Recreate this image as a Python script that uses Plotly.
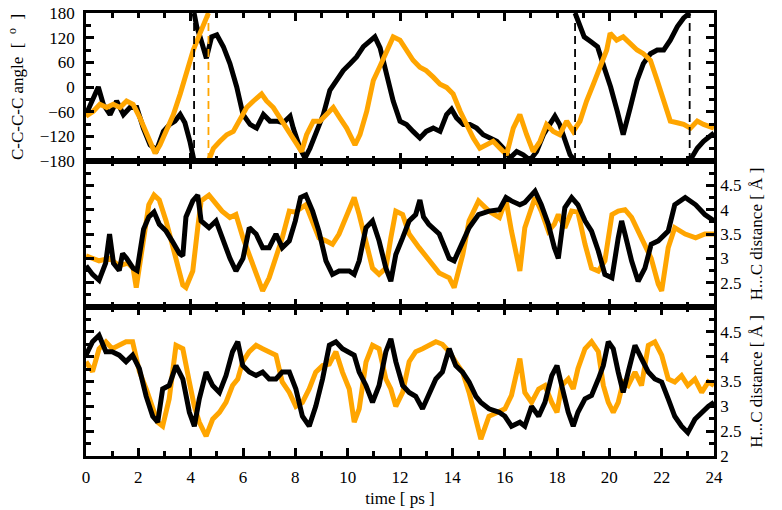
import plotly.graph_objects as go
from plotly.subplots import make_subplots

# ---------------- data ----------------
# top panel: C-C-C-C dihedral angle (deg); None marks the +-180 wrap
ang_black_t = [0, 0.22, 0.47, 0.66, 0.92, 1.17, 1.43, 1.68, 1.94, 2.19, 2.45, 2.7, 2.96, 3.2, 3.4, 3.6,
               3.78, 3.97, 4.13, None, 4.13, 4.23, 4.36, 4.6, 4.8, 5.0, 5.25, 5.5, 5.76, 6.0, 6.27, 6.52,
               6.78, 7.03, 7.29, 7.54, 7.8, 7.92, 8.18, 8.37, 8.56, 8.8, 9.07, 9.32, 9.58, 9.83, 10.1,
               10.34, 10.6, 10.85, 11.04, 11.24, 11.49, 11.74, 12.0, 12.25, 12.5, 12.76, 13.0, 13.27,
               13.53, 13.78, 13.97, 14.16, 14.42, 14.67, 14.93, 15.18, 15.44, 15.7, 15.95, 16.2, 16.46,
               16.71, 16.97, 17.22, 17.48, 17.73, 17.92, 18.1, 18.3, 18.5, 18.69, None, 18.69, 18.9,
               19.04, 19.3, 19.55, 19.8, 20.05, 20.3, 20.53, 20.8, 21.06, 21.3, 21.57, 21.83, 22.08,
               22.33, 22.6, 22.84, 23.07, None, 23.07, 23.36, 23.6, 24.0]
ang_black = [-67, -34, 0, -42, -67, -34, -67, -50, -50, -100, -141, -153, -108, -91, -83, -67,
             -87, -132, -180, None, 180, 147, 122, 70, 122, 127, 98, 57, 0, -67, -91, -100,
             -67, -83, -83, -87, -71, -100, -149, -173, -149, -108, -67, -8, 16, 40, 57,
             73, 98, 114, 122, 95, 25, -34, -83, -91, -108, -124, -108, -100,
             -108, -67, -54, -75, -91, -91, -100, -116, -124, -132, -149, -173, -157,
             -165, -178, -157, -116, -91, -71, -91, -132, -165, -180, None, 180, 147,
             122, 110, 98, 48, 0, -58, -116, -50, 16, 57, 81, 90, 90,
             114, 147, 168, 180, None, -180, -149, -132, -112]

ang_orange_t = [0, 0.28, 0.53, 0.79, 1.04, 1.3, 1.55, 1.8, 2.06, 2.32, 2.64, 2.83, 3.08, 3.34, 3.6,
                3.85, 4.1, 4.36, 4.55, 4.68, None, 4.68, 4.87, 5.12, 5.38, 5.63, 5.89, 6.14, 6.4, 6.71,
                6.9, 7.16, 7.41, 7.67, 7.92, 8.24, 8.43, 8.69, 8.94, 9.2, 9.45, 9.7, 9.96, 10.28,
                10.47, 10.73, 10.98, 11.23, 11.49, 11.74, 12.0, 12.25, 12.5, 12.76, 13.0, 13.27,
                13.53, 13.78, 14.03, 14.3, 14.54, 14.8, 15.05, 15.3, 15.56, 15.82, 16.07, 16.33,
                16.58, 16.84, 17.09, 17.35, 17.6, 17.86, 18.1, 18.37, 18.62, 18.88, 19.13, 19.39,
                19.64, 19.9, 20.03, 20.28, 20.53, 20.8, 21.06, 21.3, 21.57, 21.83, 22.08, 22.33,
                22.6, 22.84, 23.1, 23.36, 23.6, 24.0]
ang_orange = [-71, -59, -42, -50, -42, -50, -34, -42, -75, -116, -161, -141, -108, -67, -17,
              32, 90, 131, 164, 180, None, -180, -149, -132, -116, -108, -75, -50, -34, -17,
              -34, -50, -75, -100, -124, -157, -116, -83, -83, -67, -50, -75, -100, -141,
              -116, -59, 16, 50, 90, 122, 114, 90, 65, 48, 40, 24,
              7, -1, -17, -59, -91, -124, -149, -141, -132, -149, -165, -100,
              -67, -116, -157, -132, -91, -108, -116, -83, -108, -83, -34, 7,
              48, 90, 131, 114, 122, 106, 90, 81, 65, 16, -34, -83,
              -87, -91, -100, -83, -91, -100]

# wrap events (time, colour) shown as dashed verticals
wrap_t = [4.13, 4.68, 18.69, 23.07]
wrap_c = ["black", "orange", "black", "black"]

# middle panel: H...C distance (Angstrom)
mid_black_t = [0.0, 0.25, 0.5, 0.75, 0.9, 1.05, 1.27, 1.4, 1.55, 1.8, 1.95, 2.2, 2.4, 2.6, 2.8, 3.06,
               3.3, 3.57, 3.7, 3.82, 4.08, 4.27, 4.4, 4.7, 4.97, 5.2, 5.5, 5.73, 6.0, 6.24, 6.5, 6.75,
               7.0, 7.26, 7.5, 7.77, 8.0, 8.2, 8.4, 8.66, 8.9, 9.17, 9.42, 9.67, 10.06, 10.25, 10.44,
               10.7, 10.95, 11.2, 11.46, 11.65, 11.84, 12.1, 12.35, 12.6, 12.76, 12.9, 13.1, 13.5,
               13.88, 14.07, 14.4, 14.64, 15.0, 15.4, 15.8, 16.05, 16.26, 16.58, 16.77, 17.16, 17.4,
               17.67, 17.9, 18.05, 18.3, 18.56, 18.8, 19.07, 19.32, 19.58, 19.83, 20.1, 20.34, 20.47,
               20.6, 20.85, 21.1, 21.36, 21.6, 21.87, 22.25, 22.5, 22.9, 23.3, 23.65, 24.0]
mid_black = [2.85, 2.67, 2.55, 2.9, 3.5, 2.9, 2.75, 3.1, 3.0, 2.8, 2.75, 3.6, 3.85, 3.95, 3.7, 3.56,
             3.35, 3.1, 3.05, 3.85, 4.18, 4.3, 3.77, 3.63, 3.77, 3.42, 3.0, 2.74, 3.0, 3.63, 3.5, 3.22,
             3.22, 3.5, 3.22, 3.36, 3.77, 4.25, 4.3, 3.97, 3.56, 2.95, 2.67, 2.74, 2.74, 2.67, 2.95,
             3.63, 3.77, 3.36, 2.8, 2.53, 3.08, 3.42, 3.77, 3.9, 4.2, 3.85, 3.7, 3.5,
             3.0, 2.95, 3.36, 3.63, 3.9, 3.97, 4.0, 4.25, 4.18, 4.1, 4.15, 4.38, 4.1,
             3.7, 3.22, 3.0, 4.04, 4.25, 4.1, 3.77, 3.56, 3.15, 2.67, 2.6, 3.42, 3.77,
             3.5, 2.95, 2.53, 2.8, 3.29, 3.36, 3.56, 4.1, 4.25, 4.1, 3.9, 3.77]

mid_orange_t = [0.0, 0.25, 0.5, 0.9, 1.27, 1.6, 1.8, 1.92, 2.05, 2.2, 2.4, 2.6, 2.8, 3.06, 3.3, 3.57,
                3.7, 3.82, 4.08, 4.27, 4.4, 4.7, 4.97, 5.2, 5.5, 5.73, 6.0, 6.24, 6.5, 6.75, 7.0, 7.26,
                7.5, 7.77, 8.0, 8.4, 8.66, 8.9, 9.17, 9.42, 9.67, 10.06, 10.25, 10.44, 10.7, 10.95,
                11.2, 11.46, 11.65, 11.84, 12.1, 12.35, 12.73, 13.1, 13.5, 13.88, 14.07, 14.4, 14.64,
                15.0, 15.4, 15.8, 16.05, 16.26, 16.58, 16.77, 17.0, 17.16, 17.4, 17.67, 17.9, 18.05,
                18.3, 18.56, 18.8, 19.07, 19.32, 19.58, 19.83, 20.1, 20.34, 20.6, 20.85, 21.1, 21.36,
                21.6, 21.87, 22.0, 22.25, 22.5, 22.9, 23.3, 23.65, 24.0]
mid_orange = [3.05, 3.0, 2.95, 3.0, 2.85, 2.9, 2.8, 2.4, 2.9, 3.5, 4.1, 4.3, 4.2, 3.77, 3.3, 2.8,
              2.45, 2.4, 2.74, 3.63, 4.18, 4.3, 4.1, 3.97, 3.84, 3.9, 3.42, 3.08, 2.67, 2.33, 2.6, 3.0,
              3.42, 3.97, 3.95, 4.1, 3.77, 3.42, 3.36, 3.29, 3.5, 3.97, 4.25, 3.9, 3.29, 2.8,
              2.67, 2.8, 3.42, 3.97, 3.9, 3.5, 3.22, 2.95, 2.7, 2.6, 2.4, 3.08, 3.77,
              4.18, 3.97, 3.84, 4.2, 3.56, 2.74, 3.63, 4.0, 4.25, 3.97, 3.56, 3.7, 3.9,
              3.63, 3.97, 3.95, 3.29, 2.8, 2.74, 2.95, 3.9, 3.97, 4.0, 3.84, 3.56, 3.29,
              3.0, 2.47, 2.33, 3.22, 3.63, 3.5, 3.42, 3.5, 3.5]

# bottom panel: H...C distance (Angstrom)
bot_t = [0.0, 0.25, 0.5, 0.76, 1.0, 1.27, 1.53, 1.78, 2.04, 2.3, 2.55, 2.74, 2.93, 3.18, 3.44, 3.7,
         3.95, 4.14, 4.33, 4.59, 4.84, 5.1, 5.35, 5.6, 5.8, 5.99, 6.24, 6.5, 6.75, 7.0, 7.26, 7.5,
         7.77, 8.02, 8.27, 8.53, 8.78, 9.04, 9.3, 9.55, 9.8, 10.06, 10.25, 10.44, 10.7, 10.95, 11.2,
         11.46, 11.65, 11.84, 12.1, 12.35, 12.6, 12.86, 13.12, 13.37, 13.62, 13.88, 14.13, 14.39,
         14.64, 14.9, 15.09, 15.4, 15.79, 16.01, 16.26, 16.58, 16.77, 17.03, 17.3, 17.54, 17.8,
         18.0, 18.18, 18.43, 18.62, 18.8, 19.07, 19.32, 19.58, 19.77, 19.96, 20.15, 20.34, 20.53,
         20.72, 20.98, 21.23, 21.49, 21.74, 22.0, 22.25, 22.5, 22.76, 23.0, 23.27, 23.53, 23.78, 24.0]
bot_black = [4.03, 4.3, 4.43, 4.1, 4.1, 4.03, 3.9, 4.03, 3.76, 3.2, 2.8, 2.68, 3.35, 3.42, 3.82, 3.55,
             2.88, 2.6, 3.15, 3.69, 3.42, 3.28, 3.62, 4.1, 4.3, 3.82, 3.69, 3.62, 3.69, 3.55, 3.55, 3.69,
             3.69, 3.35, 2.8, 2.6, 3.0, 3.55, 4.23, 4.3, 4.16, 4.1, 4.03, 3.69, 3.42, 3.08, 3.42,
             4.1, 4.36, 3.9, 3.42, 3.28, 3.2, 2.95, 3.28, 3.55, 3.69, 4.16, 3.82, 3.69,
             3.49, 3.2, 3.08, 2.95, 2.88, 2.8, 2.6, 2.68, 2.6, 3.0, 2.8, 3.08, 3.62,
             3.82, 3.42, 2.88, 2.6, 2.88, 3.15, 3.22, 3.55, 3.82, 4.3, 4.16, 3.69, 3.28,
             3.69, 4.23, 3.96, 3.69, 3.55, 3.49, 3.15, 2.8, 2.6, 2.47, 2.74, 2.88, 3.0, 3.08]
bot_orange = [3.9, 3.7, 4.16, 4.3, 4.16, 4.23, 4.3, 4.3, 3.7, 3.35, 3.0, 2.68, 2.6, 3.15, 4.23, 4.16,
              3.49, 3.0, 2.68, 2.4, 2.74, 2.88, 3.08, 3.42, 3.55, 3.9, 4.1, 4.23, 4.16, 4.1, 4.03, 3.49,
              3.28, 3.0, 3.08, 3.35, 3.69, 3.82, 3.85, 4.1, 3.69, 3.35, 2.68, 2.95, 3.89, 4.23, 4.16,
              3.55, 3.35, 3.0, 3.28, 3.9, 4.1, 4.16, 4.23, 4.3, 4.25, 4.1, 3.89, 3.69,
              3.28, 2.68, 2.34, 2.8, 2.88, 2.95, 3.22, 3.96, 3.28, 3.08, 3.35, 3.42, 3.08,
              2.88, 3.42, 3.55, 3.35, 3.76, 4.16, 4.3, 4.1, 3.42, 3.08, 2.88, 3.08, 3.49,
              3.42, 3.69, 3.42, 4.23, 4.3, 4.03, 3.55, 3.49, 3.62, 3.42, 3.55, 3.28, 3.49, 3.42]

dist_ticks = [2, 2.5, 3, 3.5, 4, 4.5, 5]
mid_labels = ["", "2.5", "3", "3.5", "4", "4.5", ""]
bot_labels = ["2", "2.5", "3", "3.5", "4", "4.5", ""]

# ---------------- figure ----------------
ORANGE = "#FFA500"
LW = 5
fig = make_subplots(rows=3, cols=1, shared_xaxes=True, vertical_spacing=0)

fig.add_trace(go.Scatter(x=ang_black_t, y=ang_black, mode="lines",
                         line=dict(color="black", width=LW)), row=1, col=1)
fig.add_trace(go.Scatter(x=ang_orange_t, y=ang_orange, mode="lines",
                         line=dict(color=ORANGE, width=LW)), row=1, col=1)
for t, c in zip(wrap_t, wrap_c):
    fig.add_trace(go.Scatter(x=[t, t], y=[-180, 180], mode="lines",
                             line=dict(color=ORANGE if c == "orange" else "black",
                                       width=1.8, dash="8px,5px")), row=1, col=1)

fig.add_trace(go.Scatter(x=mid_orange_t, y=mid_orange, mode="lines",
                         line=dict(color=ORANGE, width=LW)), row=2, col=1)
fig.add_trace(go.Scatter(x=mid_black_t, y=mid_black, mode="lines",
                         line=dict(color="black", width=LW)), row=2, col=1)

fig.add_trace(go.Scatter(x=bot_t, y=bot_orange, mode="lines",
                         line=dict(color=ORANGE, width=LW)), row=3, col=1)
fig.add_trace(go.Scatter(x=bot_t, y=bot_black, mode="lines",
                         line=dict(color="black", width=LW)), row=3, col=1)

FAM = "Liberation Serif, Times New Roman, Times, serif"
FONT = dict(family=FAM, size=17, color="black")
axis_common = dict(showline=True, linewidth=2.5, linecolor="black", mirror="ticks",
                   ticks="inside", ticklen=8, tickwidth=2.5, tickcolor="black",
                   showgrid=False, zeroline=False, automargin=False,
                   tickfont=FONT, ticklabeloverflow="allow")
minor_x = dict(ticks="inside", dtick=1, ticklen=5, tickwidth=2.5, tickcolor="black", showgrid=False)

fig.update_xaxes(range=[0, 24], **axis_common)
fig.update_xaxes(dtick=4, tick0=0, showticklabels=False, minor=minor_x, row=1, col=1)
fig.update_xaxes(dtick=4, tick0=0, showticklabels=False, minor=minor_x, row=2, col=1)
fig.update_xaxes(dtick=2, tick0=0, showticklabels=True, minor=minor_x, ticklabelstandoff=4,
                 title=dict(text="time [ ps ]", font=FONT, standoff=6), row=3, col=1)

fig.update_yaxes(range=[-180, 180], tick0=-180, dtick=60, ticklabelstandoff=5,
                 minor=dict(ticks="inside", dtick=30, ticklen=5, tickwidth=2.5, tickcolor="black"),
                 title=dict(text="C-C-C-C angle  [  <sup>o</sup>  ]", font=FONT, standoff=12),
                 row=1, col=1, **axis_common)
fig.update_yaxes(range=[2, 5], side="right", tickvals=dist_ticks, ticktext=mid_labels,
                 ticklabelstandoff=0,
                 minor=dict(ticks="inside", dtick=0.25, ticklen=5, tickwidth=2.5, tickcolor="black"),
                 title=dict(text="H...C distance [ Å ]", font=FONT, standoff=10),
                 row=2, col=1, **axis_common)
fig.update_yaxes(range=[2, 5], side="right", tickvals=dist_ticks, ticktext=bot_labels,
                 ticklabelstandoff=0,
                 minor=dict(ticks="inside", dtick=0.25, ticklen=5, tickwidth=2.5, tickcolor="black"),
                 title=dict(text="H...C distance [ Å ]", font=FONT, standoff=10),
                 row=3, col=1, **axis_common)

fig.update_layout(
    width=782, height=510,
    margin=dict(l=86, r=68, t=13, b=54, autoexpand=False),
    paper_bgcolor="white", plot_bgcolor="white",
    showlegend=False,
    font=FONT,
    yaxis=dict(domain=[0.6659, 1.0]),
    yaxis2=dict(domain=[0.3363, 0.6659]),
    yaxis3=dict(domain=[0.0, 0.3363]),
)

# remove the default page margin so the figure sits at the window's corner
fig.write_html("out.html",
               config={"displayModeBar": False},
               post_script="document.body.style.margin='0';document.body.style.overflow='hidden';")
